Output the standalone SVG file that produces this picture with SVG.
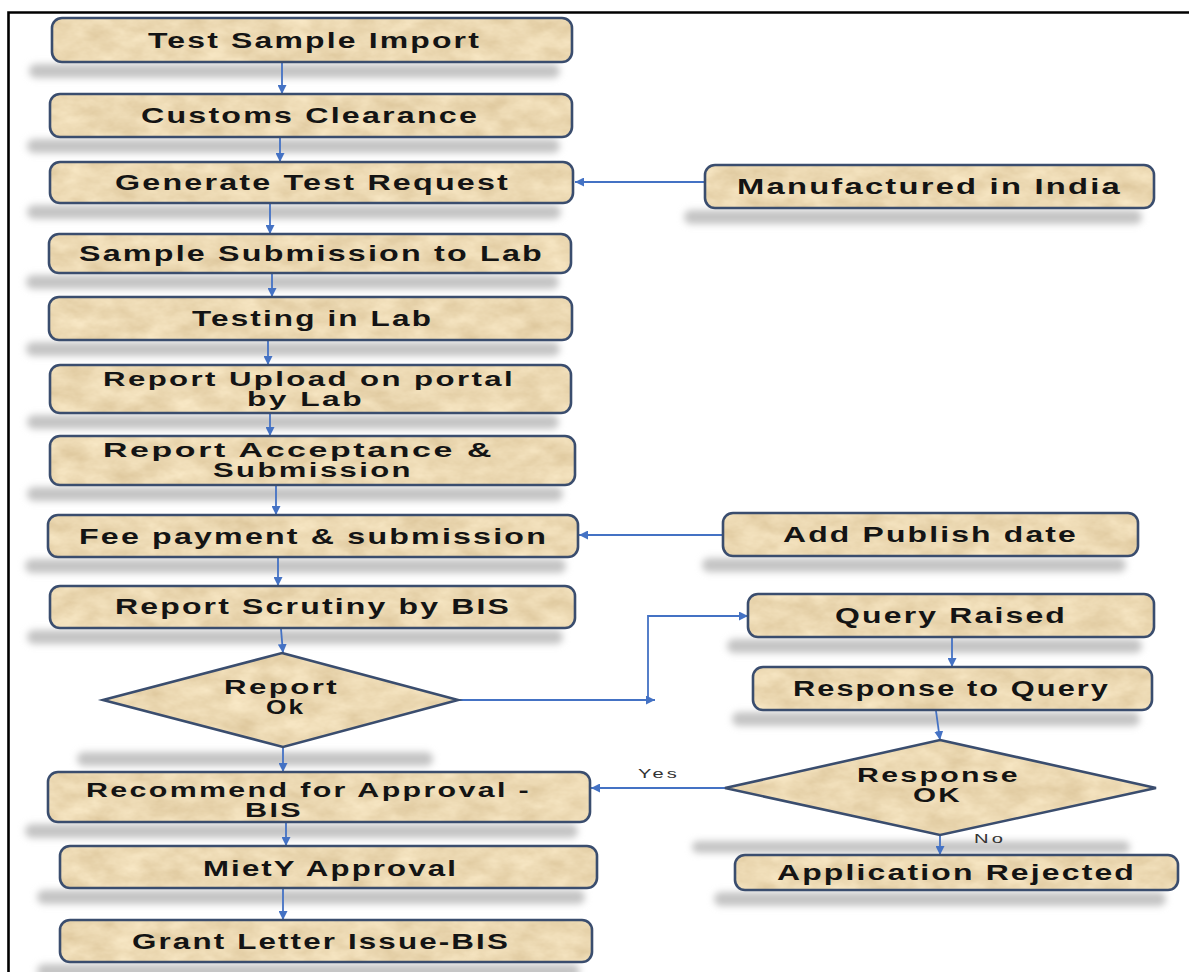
<svg xmlns="http://www.w3.org/2000/svg" width="1189" height="972" viewBox="0 0 1189 972">
<defs>
<style>
.bg{fill:#e9d6b0;filter:url(#paper)}
.bd{fill:none;stroke:#3a4d6e;stroke-width:2.6}
.sh{fill:#c4c4c4;filter:url(#blur)}
.t{font-family:"Liberation Sans",Arial,sans-serif;font-weight:bold;font-size:22px;fill:#141414;letter-spacing:1.5px}
.t2{font-family:"Liberation Sans",Arial,sans-serif;font-weight:bold;font-size:19.5px;fill:#141414;letter-spacing:1.5px}
.lbl{font-family:"Liberation Sans",Arial,sans-serif;font-size:13px;fill:#333;letter-spacing:2px}
.ar{fill:none;stroke:#4472c4;stroke-width:1.8}
.frame{stroke:#000;stroke-width:2.6;fill:none}
</style>
<filter id="paper" x="0" y="0" width="1" height="1" filterUnits="objectBoundingBox" color-interpolation-filters="sRGB">
<feTurbulence type="fractalNoise" baseFrequency="0.035 0.06" numOctaves="4" seed="7" result="n"/>
<feColorMatrix in="n" type="matrix" values="0.13 0 0 0 0.86  0.16 0 0 0 0.77  0.2 0 0 0 0.6  0 0 0 0 1" result="c"/>
<feComposite in="c" in2="SourceGraphic" operator="in"/>
</filter>
<filter id="blur" x="-10%" y="-60%" width="120%" height="220%">
<feGaussianBlur stdDeviation="3.5"/>
</filter>
<marker id="ah" viewBox="0 0 10 10" refX="10" refY="5" markerWidth="9" markerHeight="9" markerUnits="userSpaceOnUse" orient="auto">
<path d="M0,0 L10,5 L0,10 z" fill="#4472c4"/>
</marker>
</defs>
<rect width="1189" height="972" fill="#fff"/>
<path class="frame" d="M8.5,972 V12.5 H1189"/>

<g id="shadows">
<rect class="sh" x="29" y="64" width="531" height="14" rx="7"/>
<rect class="sh" x="27" y="139" width="533" height="14" rx="7"/>
<rect class="sh" x="27" y="205" width="534" height="14" rx="7"/>
<rect class="sh" x="26" y="275" width="533" height="14" rx="7"/>
<rect class="sh" x="26" y="342" width="534" height="14" rx="7"/>
<rect class="sh" x="27" y="415" width="532" height="14" rx="7"/>
<rect class="sh" x="27" y="487" width="536" height="14" rx="7"/>
<rect class="sh" x="25" y="559" width="541" height="14" rx="7"/>
<rect class="sh" x="27" y="630" width="536" height="14" rx="7"/>
<rect class="sh" x="77" y="752" width="356" height="14" rx="7"/>
<rect class="sh" x="25" y="824" width="553" height="14" rx="7"/>
<rect class="sh" x="37" y="890" width="548" height="14" rx="7"/>
<rect class="sh" x="37" y="964" width="543" height="14" rx="7"/>
<rect class="sh" x="684" y="210" width="458" height="14" rx="7"/>
<rect class="sh" x="702" y="558" width="424" height="14" rx="7"/>
<rect class="sh" x="727" y="639" width="415" height="14" rx="7"/>
<rect class="sh" x="732" y="712" width="408" height="14" rx="7"/>
<rect class="sh" x="692" y="841" width="438" height="12" rx="6"/>
<rect class="sh" x="714" y="892" width="452" height="14" rx="7"/>
</g>

<g id="connectors">
<line class="ar" x1="282" y1="63" x2="282" y2="94" marker-end="url(#ah)"/>
<line class="ar" x1="280" y1="138" x2="280" y2="162" marker-end="url(#ah)"/>
<line class="ar" x1="270" y1="204" x2="270" y2="234" marker-end="url(#ah)"/>
<line class="ar" x1="272" y1="274" x2="272" y2="297" marker-end="url(#ah)"/>
<line class="ar" x1="268" y1="341" x2="268" y2="365" marker-end="url(#ah)"/>
<line class="ar" x1="270" y1="414" x2="270" y2="436" marker-end="url(#ah)"/>
<line class="ar" x1="276" y1="486" x2="276" y2="515" marker-end="url(#ah)"/>
<line class="ar" x1="278" y1="558" x2="278" y2="586" marker-end="url(#ah)"/>
<line class="ar" x1="281" y1="629" x2="283" y2="653" marker-end="url(#ah)"/>
<line class="ar" x1="283" y1="748" x2="283" y2="772" marker-end="url(#ah)"/>
<line class="ar" x1="286" y1="823" x2="286" y2="846" marker-end="url(#ah)"/>
<line class="ar" x1="283" y1="889" x2="283" y2="920" marker-end="url(#ah)"/>
<line class="ar" x1="705" y1="182" x2="575" y2="182" marker-end="url(#ah)"/>
<line class="ar" x1="723" y1="535" x2="579" y2="535" marker-end="url(#ah)"/>
<line class="ar" x1="458" y1="700" x2="655" y2="700" marker-end="url(#ah)"/>
<polyline class="ar" points="648,700 648,616 748,616" marker-end="url(#ah)"/>
<line class="ar" x1="952" y1="638" x2="952" y2="667" marker-end="url(#ah)"/>
<line class="ar" x1="936" y1="711" x2="940" y2="740" marker-end="url(#ah)"/>
<line class="ar" x1="725" y1="788" x2="591" y2="788" marker-end="url(#ah)"/>
<line class="ar" x1="940" y1="835" x2="940" y2="855" marker-end="url(#ah)"/>
<text class="lbl" x="638" y="778" textLength="42" lengthAdjust="spacingAndGlyphs">Yes</text>
<text class="lbl" x="974" y="843" textLength="32" lengthAdjust="spacingAndGlyphs">No</text>
</g>

<g id="n1"><rect class="bg" x="52" y="18" width="520" height="44" rx="10"/><rect class="bd" x="52" y="18" width="520" height="44" rx="10"/><text class="t" x="148" y="48" textLength="333" lengthAdjust="spacingAndGlyphs">Test Sample Import</text></g>
<g id="n2"><rect class="bg" x="50" y="94" width="522" height="43" rx="10"/><rect class="bd" x="50" y="94" width="522" height="43" rx="10"/><text class="t" x="141" y="123" textLength="338" lengthAdjust="spacingAndGlyphs">Customs Clearance</text></g>
<g id="n3"><rect class="bg" x="50" y="162" width="523" height="41" rx="10"/><rect class="bd" x="50" y="162" width="523" height="41" rx="10"/><text class="t" x="115" y="190" textLength="395" lengthAdjust="spacingAndGlyphs">Generate Test Request</text></g>
<g id="n4"><rect class="bg" x="49" y="234" width="522" height="39" rx="10"/><rect class="bd" x="49" y="234" width="522" height="39" rx="10"/><text class="t" x="79" y="261" textLength="465" lengthAdjust="spacingAndGlyphs">Sample Submission to Lab</text></g>
<g id="n5"><rect class="bg" x="49" y="297" width="523" height="43" rx="10"/><rect class="bd" x="49" y="297" width="523" height="43" rx="10"/><text class="t" x="192" y="326" textLength="241" lengthAdjust="spacingAndGlyphs">Testing in Lab</text></g>
<g id="n6"><rect class="bg" x="50" y="365" width="521" height="48" rx="10"/><rect class="bd" x="50" y="365" width="521" height="48" rx="10"/><text class="t2" x="103" y="386" textLength="412" lengthAdjust="spacingAndGlyphs">Report Upload on portal</text><text class="t2" x="247" y="406" textLength="117" lengthAdjust="spacingAndGlyphs">by Lab</text></g>
<g id="n7"><rect class="bg" x="50" y="436" width="525" height="49" rx="10"/><rect class="bd" x="50" y="436" width="525" height="49" rx="10"/><text class="t2" x="103" y="457" textLength="391" lengthAdjust="spacingAndGlyphs">Report Acceptance &amp;</text><text class="t2" x="213" y="477" textLength="200" lengthAdjust="spacingAndGlyphs">Submission</text></g>
<g id="n8"><rect class="bg" x="48" y="515" width="530" height="42" rx="10"/><rect class="bd" x="48" y="515" width="530" height="42" rx="10"/><text class="t" x="79" y="544" textLength="469" lengthAdjust="spacingAndGlyphs">Fee payment &amp; submission</text></g>
<g id="n9"><rect class="bg" x="50" y="586" width="525" height="42" rx="10"/><rect class="bd" x="50" y="586" width="525" height="42" rx="10"/><text class="t" x="115" y="614" textLength="396" lengthAdjust="spacingAndGlyphs">Report Scrutiny by BIS</text></g>
<g id="n10"><polygon class="bg" points="282,653 458,700 283,747 103,700"/><polygon class="bd" points="282,653 458,700 283,747 103,700"/><text class="t2" x="224" y="694" textLength="115" lengthAdjust="spacingAndGlyphs">Report</text><text class="t2" x="266" y="714" textLength="39" lengthAdjust="spacingAndGlyphs">Ok</text></g>
<g id="n11"><rect class="bg" x="48" y="772" width="542" height="50" rx="10"/><rect class="bd" x="48" y="772" width="542" height="50" rx="10"/><text class="t2" x="86" y="797" textLength="445" lengthAdjust="spacingAndGlyphs">Recommend for Approval -</text><text class="t2" x="245" y="817" textLength="58" lengthAdjust="spacingAndGlyphs">BIS</text></g>
<g id="n12"><rect class="bg" x="60" y="846" width="537" height="42" rx="10"/><rect class="bd" x="60" y="846" width="537" height="42" rx="10"/><text class="t" x="203" y="876" textLength="255" lengthAdjust="spacingAndGlyphs">MietY Approval</text></g>
<g id="n13"><rect class="bg" x="60" y="920" width="532" height="42" rx="10"/><rect class="bd" x="60" y="920" width="532" height="42" rx="10"/><text class="t" x="132" y="949" textLength="378" lengthAdjust="spacingAndGlyphs">Grant Letter Issue-BIS</text></g>

<g id="r1"><rect class="bg" x="705" y="165" width="449" height="43" rx="10"/><rect class="bd" x="705" y="165" width="449" height="43" rx="10"/><text class="t" x="737" y="194" textLength="385" lengthAdjust="spacingAndGlyphs">Manufactured in India</text></g>
<g id="r2"><rect class="bg" x="723" y="513" width="415" height="43" rx="10"/><rect class="bd" x="723" y="513" width="415" height="43" rx="10"/><text class="t" x="783" y="542" textLength="295" lengthAdjust="spacingAndGlyphs">Add Publish date</text></g>
<g id="r3"><rect class="bg" x="748" y="594" width="406" height="43" rx="10"/><rect class="bd" x="748" y="594" width="406" height="43" rx="10"/><text class="t" x="835" y="623" textLength="232" lengthAdjust="spacingAndGlyphs">Query Raised</text></g>
<g id="r4"><rect class="bg" x="753" y="667" width="399" height="43" rx="10"/><rect class="bd" x="753" y="667" width="399" height="43" rx="10"/><text class="t" x="793" y="696" textLength="317" lengthAdjust="spacingAndGlyphs">Response to Query</text></g>
<g id="r5"><polygon class="bg" points="940,740 1156,788 940,835 725,788"/><polygon class="bd" points="940,740 1156,788 940,835 725,788"/><text class="t2" x="857" y="782" textLength="163" lengthAdjust="spacingAndGlyphs">Response</text><text class="t2" x="913" y="802" textLength="49" lengthAdjust="spacingAndGlyphs">OK</text></g>
<g id="r6"><rect class="bg" x="735" y="855" width="443" height="35" rx="10"/><rect class="bd" x="735" y="855" width="443" height="35" rx="10"/><text class="t" x="777" y="880" textLength="359" lengthAdjust="spacingAndGlyphs">Application Rejected</text></g>
</svg>
